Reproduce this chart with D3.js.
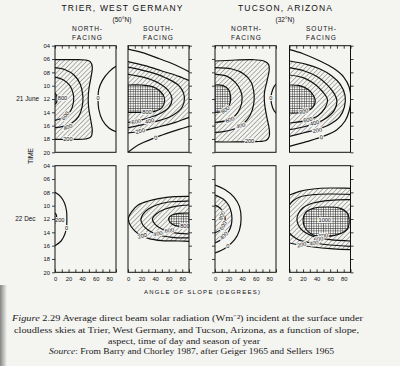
<!DOCTYPE html>
<html><head><meta charset="utf-8">
<script src="https://cdn.jsdelivr.net/npm/d3@7"></script>
<style>
body{margin:0;background:#f4f4f1;}
svg{display:block;}
</style></head><body>
<svg id="c" width="400" height="366"></svg>
<script>
// ---------- data ----------
const slopeTicks = [0,10,20,30,40,50,60,70,80,90];
const slopeLabels = [0,20,40,60,80];
const timeTicks = [4,6,8,10,12,14,16,18,20];
const timeLabels = ["04","06","08","10","12","14","16","18","20"];
const sites = ["TRIER, WEST GERMANY","TUCSON, ARIZONA"];
const latitudes = ["(50°N)","(32°N)"];
const aspectTop = ["NORTH-","SOUTH-"];
const aspectBottom = ["FACING","FACING"];
const seasons = ["21 June","22 Dec"];

// contour lines: [slope (deg), time (h)]
// Trier, north-facing, 21 June
const trNJ200 = [[0,6.1],[25,6.1],[45,6.15],[52,6.4],[55,7.2],[53,8.8],[50,10.5],[49,12],[50,13.6],[53,15.3],[55,16.8],[53,17.7],[45,18.0],[25,18.05],[0,18.05]];
const trNJ400 = [[0,7.3],[15,7.6],[28,8.4],[37,9.7],[41,11.5],[40,13.2],[35,14.6],[25,15.6],[12,16.1],[0,16.3]];
const trNJ600 = [[0,8.7],[12,9.1],[22,10.0],[27,11.3],[27,12.6],[23,13.8],[14,14.7],[0,15.2]];
const trNJ800 = [[0,11.1],[2.5,11.5],[3,12.0],[2.5,12.5],[0,12.8]];
const trNJ0 = [[94,7.0],[90,7.1],[80,7.9],[70,9.2],[64.5,10.6],[63.5,12],[64.5,13.5],[70,15.2],[80,16.4],[90,16.9],[94,16.95]];
// Trier, south-facing, 21 June
const trSJ0a = [[0,4.5],[20,5.0],[45,5.9],[70,6.9],[90,7.9]];
const trSJ0b = [[0,20],[15,18.9],[40,17.8],[65,16.9],[90,16.1]];
const trSJ200 = [[0,6.4],[25,7.0],[50,7.8],[75,8.6],[90,9.2],[95,9.2],[95,14.8],[90,14.8],[70,15.5],[45,16.2],[20,16.8],[0,17.1]];
const trSJ400 = [[0,7.2],[30,7.9],[55,8.8],[75,10.0],[83,11.6],[80,13.2],[65,14.5],[40,15.4],[15,16.0],[0,16.3]];
const trSJ600 = [[0,8.3],[25,8.8],[45,9.6],[60,10.8],[65,12.0],[60,13.3],[45,14.3],[25,15.0],[0,15.5]];
const trSJ800 = [[0,9.9],[20,9.9],[40,10.3],[52,11.4],[54,12.3],[50,13.3],[38,13.9],[20,14.0],[0,14.0]];
// Tucson, north-facing, 21 June
const tuNJ200 = [[0,6.3],[30,6.15],[55,6.1],[72,6.3],[79,6.8],[80,7.6],[77,9.2],[73,11],[73,12.5],[76,14.5],[80,16.5],[80,17.6],[76,18.2],[60,18.4],[30,18.45],[0,18.45]];
const tuNJ400 = [[0,7.3],[25,7.5],[42,8.2],[53,9.4],[57.5,11.2],[57,12.8],[52,14.4],[42,15.7],[28,16.5],[12,16.9],[0,17.0]];
const tuNJ600 = [[0,8.3],[18,8.6],[30,9.5],[38,10.8],[40,12],[37,13.4],[30,14.5],[18,15.2],[0,15.5]];
const tuNJ800 = [[0,9.9],[12,10.0],[20,10.6],[23,11.6],[22,12.7],[17,13.5],[9,13.9],[0,14.0]];
const tuNJ0 = [[94,9.7],[90,9.8],[85,10.6],[82.5,11.9],[85,13.3],[90,14.1],[94,14.2]];
// Tucson, south-facing, 21 June
const tuSJ0 = [[0,4.6],[20,5.2],[45,6.3],[65,7.4],[80,8.7],[88,10.2],[90.5,12],[88,13.8],[82,15.3],[70,16.6],[50,17.6],[25,18.4],[0,19.1]];
const tuSJ200 = [[0,6.3],[25,6.8],[45,7.5],[62,8.5],[75,9.8],[82,11.5],[81,13.2],[74,14.7],[60,15.8],[40,16.6],[20,17.1],[0,17.6]];
const tuSJ400 = [[0,7.3],[22,7.8],[40,8.6],[55,9.8],[66,11.2],[70,12.3],[66,13.7],[55,14.8],[40,15.6],[20,16.2],[0,16.6]];
const tuSJ600 = [[0,8.4],[20,8.8],[35,9.6],[48,10.8],[56,12.1],[52,13.4],[42,14.5],[25,15.2],[0,15.6]];
const tuSJ800 = [[0,9.9],[15,10.0],[28,10.6],[36,11.6],[38,12.4],[34,13.3],[25,13.9],[10,14.1],[0,14.1]];
// Trier, north-facing, 22 Dec
const trND0 = [[0,8.0],[8,8.6],[14,9.6],[17,10.8],[17.5,12],[17,13.2],[14.5,14.3],[9,15.3],[0,16]];
const trND200 = [[0,11.1],[2,11.4],[2.5,11.9],[2,12.4],[0,12.6]];
// Trier, south-facing, 22 Dec
const trSD200 = [[95,8.6],[90,8.6],[68,8.65],[45,8.95],[30,9.3],[15,9.9],[5.5,10.9],[0.5,12],[5,13.2],[15,14.2],[30,14.9],[50,15.25],[75,15.3],[90,15.35],[95,15.35]];
const trSD400 = [[95,9.3],[90,9.3],[60,9.45],[42,9.9],[30,10.5],[22,11.3],[19,12.1],[22,12.9],[30,13.7],[45,14.4],[65,14.75],[90,14.85],[95,14.85]];
const trSD600 = [[95,9.9],[90,9.9],[70,10.1],[55,10.5],[42,11.2],[36,12],[40,12.8],[50,13.5],[65,14],[90,14.25],[95,14.25]];
const trSD800 = [[95,11.1],[90,11.1],[75,11.15],[65,11.4],[60,11.9],[62,12.5],[70,13.0],[80,13.1],[90,13.1],[95,13.1]];
// Tucson, north-facing, 22 Dec
const tuND0 = [[0,6.9],[15,7.6],[28,8.7],[36,10.1],[38.5,11.9],[36,13.7],[29,15.1],[16,16.3],[0,17.1]];
const tuND200 = [[0,8.4],[12,9.0],[20,9.9],[24,11],[25,11.9],[24,12.9],[20,13.9],[12,14.9],[0,15.6]];
const tuND400 = [[0,9.9],[8,10.4],[13,11.2],[15,12],[13,12.8],[8,13.6],[0,14.1]];
// Tucson, south-facing, 22 Dec
const tuSD200 = [[0,8.4],[15,7.85],[35,7.5],[60,7.35],[90,7.4],[95,7.4],[95,16.6],[90,16.6],[60,16.45],[35,16.2],[15,15.9],[0,15.6]];
const tuSD400 = [[0,9.9],[5,9.3],[15,8.7],[35,8.35],[60,8.25],[90,8.3],[95,8.3],[95,16.1],[90,16.1],[60,15.9],[35,15.6],[15,15.2],[5,14.6],[0,14.1]];
const tuSD600 = [[95,9.1],[90,9.1],[60,9.2],[35,9.6],[20,10.3],[13,11.2],[11,12],[13,12.9],[20,13.8],[35,14.6],[60,15.1],[90,15.3],[95,15.3]];
const tuSD800 = [[20,12.2],[24,11],[35,10.4],[55,10.2],[75,10.4],[86,11.2],[88,12.2],[86,13.4],[75,14.2],[55,14.6],[35,14.4],[24,13.5]];

// contour labels: [slope, time, text, rotation]
const trNJLabels = [[11,11.9,"800",0],[15,14.5,"600",-55],[19,16.2,"400",-20],[19,18.05,"200",0],[63.5,11.9,"0",0]];
const trSJLabels = [[28,13.9,"800",0],[12,15.4,"600",-10],[32,15.3,"400",-12],[18,16.8,"200",-12],[41,17.8,"0",-15]];
const tuNJLabels = [[15,13.6,"800",-35],[22,15.1,"600",-20],[38,16.0,"400",-10],[51,18.3,"200",0],[82.5,11.9,"0",0]];
const tuSJLabels = [[21,13.85,"800",-15],[27,15.1,"600",-12],[37,15.6,"400",-12],[41,16.7,"200",-10],[47,17.75,"0",-12]];
const trNDLabels = [[7,12.2,"200",0],[17,13.4,"0",0]];
const trSDLabels = [[21,14.5,"200",-15],[44,14.2,"400",-10],[61,13.7,"600",-8],[84,13.1,"800",0]];
const tuNDLabels = [[10,11.5,"800",-70],[12,13.0,"600",-60],[13,14.5,"400",-45],[19,16.0,"0",0]];
const tuSDLabels = [[52,12.1,"1000",0],[50,14.5,"800",-5],[43,15.0,"600",-8],[36,15.6,"400",-10],[18,15.85,"200",-10]];

// ---------- layout ----------
const panelX = [55,128,215,289.5];
const rowY = [45.7,165.7];
const W = 61, H = 106.6;
const xs = d3.scaleLinear().domain([0,90]).range([0,W]);
const ys = d3.scaleLinear().domain([4,20]).range([0,H]);

const panels = [
 {c:0,r:0,lines:[trNJ200,trNJ400,trNJ600,trNJ800,trNJ0],hatch:trNJ200,cross:trNJ800,labels:trNJLabels},
 {c:1,r:0,lines:[trSJ0a,trSJ0b,trSJ200,trSJ400,trSJ600,trSJ800],hatch:trSJ200,cross:trSJ800,labels:trSJLabels},
 {c:2,r:0,lines:[tuNJ200,tuNJ400,tuNJ600,tuNJ800,tuNJ0],hatch:tuNJ200,cross:tuNJ800,labels:tuNJLabels},
 {c:3,r:0,lines:[tuSJ0,tuSJ200,tuSJ400,tuSJ600,tuSJ800],hatch:tuSJ200,cross:tuSJ800,labels:tuSJLabels},
 {c:0,r:1,lines:[trND0,trND200],hatch:trND200,cross:null,labels:trNDLabels},
 {c:1,r:1,lines:[trSD200,trSD400,trSD600,trSD800],hatch:trSD200,cross:trSD800,labels:trSDLabels},
 {c:2,r:1,lines:[tuND0,tuND200,tuND400],hatch:tuND200,cross:null,labels:tuNDLabels},
 {c:3,r:1,lines:[tuSD200,tuSD400,tuSD600],hatch:tuSD200,cross:tuSD800,closedCross:true,labels:tuSDLabels}
];

const BG = "#f4f4f1";
const svg = d3.select("#c");
const defs = svg.append("defs");
const hp = defs.append("pattern").attr("id","hatch").attr("patternUnits","userSpaceOnUse")
  .attr("width",3.3).attr("height",3.3).attr("patternTransform","rotate(45)");
hp.append("line").attr("x1",0).attr("y1",0).attr("x2",0).attr("y2",3.3).attr("stroke","#3a3a3a").attr("stroke-width",0.75);
const cp = defs.append("pattern").attr("id","cross").attr("patternUnits","userSpaceOnUse")
  .attr("width",2.4).attr("height",2.4);
cp.append("rect").attr("width",2.4).attr("height",2.4).attr("fill","#f8f8f6");
cp.append("path").attr("d","M0,0.3H2.4M0.3,0V2.4").attr("stroke","#333").attr("stroke-width",0.6);
// page shadow (book binding)
const lg = defs.append("linearGradient").attr("id","shadow").attr("x1",0).attr("x2",1).attr("y1",0).attr("y2",0);
lg.append("stop").attr("offset",0).attr("stop-color","#555").attr("stop-opacity",0.7);
lg.append("stop").attr("offset",1).attr("stop-color","#555").attr("stop-opacity",0);

svg.append("rect").attr("width",400).attr("height",366).attr("fill",BG);
svg.append("rect").attr("x",0).attr("y",285).attr("width",7).attr("height",81).attr("fill","url(#shadow)");

const line = d3.line().x(d=>xs(d[0])).y(d=>ys(d[1])).curve(d3.curveCatmullRom.alpha(0.5));
const loop = d3.line().x(d=>xs(d[0])).y(d=>ys(d[1])).curve(d3.curveCatmullRomClosed.alpha(0.5));

const SANS = "'Liberation Sans', Arial, sans-serif";

panels.forEach((p,i)=>{
  const g = svg.append("g").attr("transform",`translate(${panelX[p.c]},${rowY[p.r]})`);
  defs.append("clipPath").attr("id","clip"+i).append("rect").attr("width",W).attr("height",H);
  const cg = g.append("g").attr("clip-path",`url(#clip${i})`);
  if(p.hatch) cg.append("path").attr("d",line(p.hatch)+"Z").attr("fill","url(#hatch)");
  if(p.cross){
    const d = p.closedCross ? loop(p.cross) : line(p.cross)+"Z";
    cg.append("path").attr("d",d).attr("fill","url(#cross)");
  }
  p.lines.forEach(l=>{
    cg.append("path").attr("d",line(l)).attr("fill","none").attr("stroke","#111").attr("stroke-width",1.2);
  });
  if(p.closedCross) cg.append("path").attr("d",loop(p.cross)).attr("fill","none").attr("stroke","#111").attr("stroke-width",1.2);
  // labels
  g.selectAll("text.lab").data(p.labels).join("text").attr("class","lab")
    .attr("transform",d=>`translate(${xs(d[0])},${ys(d[1])}) rotate(${d[3]})`)
    .attr("text-anchor","middle").attr("dy","0.35em")
    .attr("font-family",SANS).attr("font-size",5.6)
    .attr("stroke",BG).attr("stroke-width",2.2).attr("paint-order","stroke").attr("fill","#111")
    .text(d=>d[2]);
  // frame
  g.append("rect").attr("width",W).attr("height",H).attr("fill","none").attr("stroke","#111").attr("stroke-width",1);

  // axes
  const styleAxis = a=>{ a.select(".domain").remove(); a.selectAll("line").attr("stroke","#111").attr("stroke-width",0.8);
    a.selectAll("text").attr("font-family",SANS).attr("font-size",5.8).attr("fill","#111"); };
  if(p.r===0){
    g.append("g").call(d3.axisTop(xs).tickValues(slopeTicks).tickSize(-3).tickFormat("")).call(styleAxis);
  } else {
    g.append("g").attr("transform",`translate(0,${H})`)
     .call(d3.axisBottom(xs).tickValues(slopeTicks).tickSize(-3).tickPadding(5).tickFormat(d=>slopeLabels.includes(d)?d:""))
     .call(styleAxis);
  }
  if(p.c===0){
    g.append("g").call(d3.axisLeft(ys).tickValues(timeTicks).tickSize(3).tickPadding(2)
      .tickFormat((d,k)=>timeLabels[k])).call(styleAxis);
  } else if(p.c===2){
    g.append("g").call(d3.axisLeft(ys).tickValues(timeTicks).tickSize(3).tickFormat("")).call(styleAxis);
  } else {
    g.append("g").attr("transform",`translate(${W},0)`).call(d3.axisRight(ys).tickValues(timeTicks).tickSize(3).tickFormat("")).call(styleAxis);
  }
});

// headings
const siteX = [122,285];
sites.forEach((s,k)=>{
  svg.append("text").attr("x",siteX[k]).attr("y",11).attr("text-anchor","middle")
    .attr("font-family",SANS).attr("font-size",8.5).attr("fill","#111")
    .attr("textLength",k===0?121:94).attr("lengthAdjust","spacing").text(s);
  svg.append("text").attr("x",siteX[k]).attr("y",22).attr("text-anchor","middle")
    .attr("font-family",SANS).attr("font-size",6.5).attr("fill","#111").text(latitudes[k]);
});
const aspX = [87,158,246,321];
aspX.forEach((x,k)=>{
  svg.append("text").attr("x",x).attr("y",31).attr("text-anchor","middle")
    .attr("font-family",SANS).attr("font-size",6.6).attr("fill","#111")
    .attr("textLength",30).attr("lengthAdjust","spacing").text(aspectTop[k%2]);
  svg.append("text").attr("x",x).attr("y",40).attr("text-anchor","middle")
    .attr("font-family",SANS).attr("font-size",6.6).attr("fill","#111")
    .attr("textLength",30).attr("lengthAdjust","spacing").text(aspectBottom[k%2]);
});
// season labels
seasons.forEach((s,k)=>{
  svg.append("text").attr("x",k===0?39:35.5).attr("y",rowY[k]+ys(12)).attr("dy","0.35em").attr("text-anchor","end")
    .attr("font-family",SANS).attr("font-size",6.4).attr("fill","#111").text(s);
});
// TIME
svg.append("text").attr("transform","translate(32.5,156) rotate(-90)").attr("text-anchor","middle")
  .attr("font-family",SANS).attr("font-size",7).attr("fill","#111")
  .attr("textLength",16).attr("lengthAdjust","spacing").text("TIME");
// x title
svg.append("text").attr("x",202).attr("y",293.5).attr("text-anchor","middle")
  .attr("font-family",SANS).attr("font-size",6).attr("fill","#111")
  .attr("textLength",116).attr("lengthAdjust","spacing").text("ANGLE OF SLOPE (DEGREES)");

// caption
const SERIF = "'Liberation Serif', 'Times New Roman', serif";
const cap = [
  {y:321,x0:12,len:351,parts:[["Figure",true],[" 2.29  Average direct beam solar radiation (Wm⁻²) incident at the surface under",false]],fs:8.6},
  {y:332.5,x0:14,len:345,parts:[["cloudless skies at Trier, West Germany, and Tucson, Arizona, as a function of slope,",false]],fs:8.6},
  {y:343.5,x0:108,len:152,parts:[["aspect, time of day and season of year",false]],fs:8.6},
  {y:353.5,x0:49,len:285,parts:[["Source",true],[": From Barry and Chorley 1987, after Geiger 1965 and Sellers 1965",false]],fs:7.4}
];
cap.forEach(c=>{
  const t = svg.append("text").attr("x",c.x0).attr("y",c.y).attr("font-family",SERIF).attr("font-size",c.fs)
    .attr("fill","#1a1a1a").attr("textLength",c.len).attr("lengthAdjust","spacingAndGlyphs");
  c.parts.forEach(pt=>t.append("tspan").attr("font-style",pt[1]?"italic":"normal").text(pt[0]));
});
</script>
</body></html>
